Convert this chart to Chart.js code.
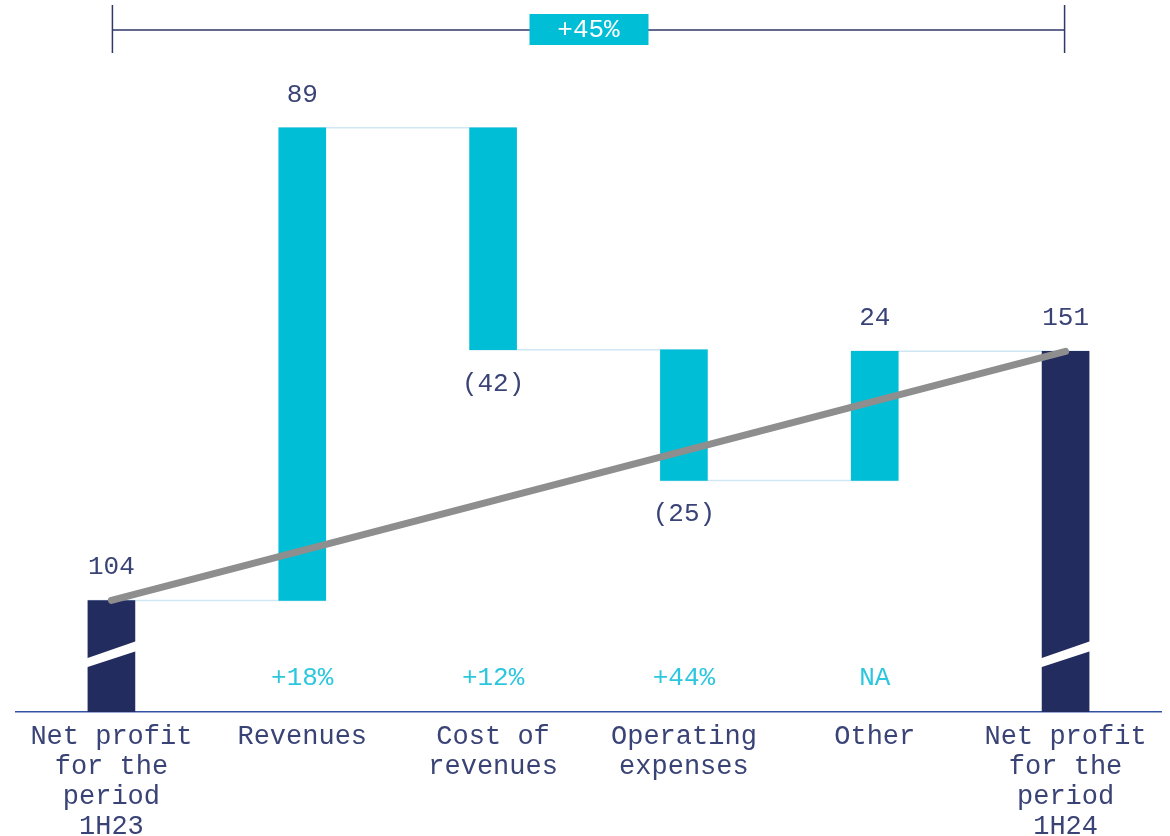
<!DOCTYPE html>
<html>
<head>
<meta charset="utf-8">
<script src="https://cdn.jsdelivr.net/npm/chart.js@4"></script>
<style>
  html, body { margin: 0; padding: 0; background: #fff; }
  canvas { display: block; }
</style>
</head>
<body>
<canvas id="waterfall" width="1170" height="836"></canvas>
<script>
// categories and values
const categories = [
    ['Net profit', 'for the', 'period', '1H23'],
    ['Revenues'],
    ['Cost of', 'revenues'],
    ['Operating', 'expenses'],
    ['Other'],
    ['Net profit', 'for the', 'period', '1H24']
];
const barStart = [83, 104, 193, 151.2, 126.6, 83];
const barEnd = [104, 193, 151.2, 126.6, 150.9, 150.9];
const valueLabels = ['104', '89', '(42)', '(25)', '24', '151'];
const growthLabels = ['', '+18%', '+12%', '+44%', 'NA', ''];
const trendPoints = [104, null, null, null, null, 150.9];
const totalGrowth = '+45%';
const isTotal = [true, false, false, false, false, true];

const NAVY = '#222c5f';
const CYAN = '#00bed6';
const TEXT = '#3a4376';
const FONT = 'Liberation Mono, Courier New, monospace';

// connectors, value labels, break marks and the +45% bracket
const waterfallExtras = {
    id: 'waterfallExtras',
    beforeDatasetsDraw(chart) {
        const ctx = chart.ctx;
        const bars = chart.getDatasetMeta(1).data;
        const ys = chart.scales.y;
        ctx.save();
        ctx.strokeStyle = '#cfe7f2';
        ctx.lineWidth = 1.5;
        for (let i = 0; i < bars.length - 1; i++) {
            const level = ys.getPixelForValue(barEnd[i]);
            const a = bars[i], b = bars[i + 1];
            ctx.beginPath();
            ctx.moveTo(a.x - a.width / 2, level);
            ctx.lineTo(b.x + b.width / 2, level);
            ctx.stroke();
        }
        ctx.restore();
    },
    afterDatasetsDraw(chart) {
        const ctx = chart.ctx;
        const bars = chart.getDatasetMeta(1).data;
        const xs = chart.scales.x;
        const ys = chart.scales.y;
        const area = chart.chartArea;
        ctx.save();

        // break marks on the total bars
        const breakY = ys.getPixelForValue(93.5);
        bars.forEach((bar, i) => {
            if (!isTotal[i]) return;
            const l = bar.x - bar.width / 2 - 1, r = bar.x + bar.width / 2 + 1;
            ctx.fillStyle = '#fff';
            ctx.beginPath();
            ctx.moveTo(l, breakY + 2);
            ctx.lineTo(r, breakY - 15);
            ctx.lineTo(r, breakY - 5);
            ctx.lineTo(l, breakY + 11);
            ctx.closePath();
            ctx.fill();
        });

        ctx.font = '26px ' + FONT;
        ctx.textAlign = 'center';
        ctx.textBaseline = 'middle';
        bars.forEach((bar, i) => {
            const top = Math.min(bar.y, bar.base);
            const bottom = Math.max(bar.y, bar.base);
            ctx.fillStyle = TEXT;
            if (valueLabels[i].startsWith('(')) {
                ctx.fillText(valueLabels[i], bar.x, bottom + 34);
            } else {
                ctx.fillText(valueLabels[i], bar.x, top - 33);
            }
            if (growthLabels[i]) {
                ctx.fillStyle = '#2cc7de';
                ctx.fillText(growthLabels[i], bar.x, area.bottom - 34);
            }
        });

        // top bracket
        const x0 = xs.getPixelForValue(0) + 1;
        const x1 = xs.getPixelForValue(categories.length - 1) - 1;
        ctx.strokeStyle = '#2f3868';
        ctx.lineWidth = 1.5;
        ctx.beginPath();
        ctx.moveTo(x0, 30); ctx.lineTo(x1, 30);
        ctx.moveTo(x0, 5); ctx.lineTo(x0, 53);
        ctx.moveTo(x1, 5); ctx.lineTo(x1, 53);
        ctx.stroke();
        const mid = (x0 + x1) / 2;
        ctx.fillStyle = CYAN;
        ctx.fillRect(mid - 59, 14, 119, 31);
        ctx.fillStyle = '#fff';
        ctx.fillText(totalGrowth, mid, 30);
        ctx.restore();
    }
};

new Chart(document.getElementById('waterfall'), {
    type: 'bar',
    data: {
        labels: categories,
        datasets: [
            {
                type: 'line',
                data: trendPoints,
                borderColor: '#8e8e8e',
                borderWidth: 7,
                borderCapStyle: 'round',
                pointRadius: 0,
                spanGaps: true,
                order: 0
            },
            {
                data: barStart.map((s, i) => [s, barEnd[i]]),
                backgroundColor: isTotal.map(t => t ? NAVY : CYAN),
                barThickness: 47,
                order: 1
            }
        ]
    },
    options: {
        responsive: false,
        animation: false,
        devicePixelRatio: 1,
        layout: { padding: { top: 64, left: 16, right: 9, bottom: 0 } },
        plugins: { legend: { display: false }, tooltip: { enabled: false } },
        scales: {
            x: {
                offset: true,
                grid: { display: false, drawTicks: false },
                border: { display: true, color: '#3352a2', width: 1.5 },
                ticks: {
                    color: TEXT,
                    font: { family: FONT, size: 27, lineHeight: 1.11 },
                    padding: 10,
                    maxRotation: 0,
                    autoSkip: false
                },
                afterFit(scale) { scale.height = 124; }
            },
            y: { display: false, min: 83, max: 205 }
        }
    },
    plugins: [waterfallExtras]
});
</script>
</body>
</html>
